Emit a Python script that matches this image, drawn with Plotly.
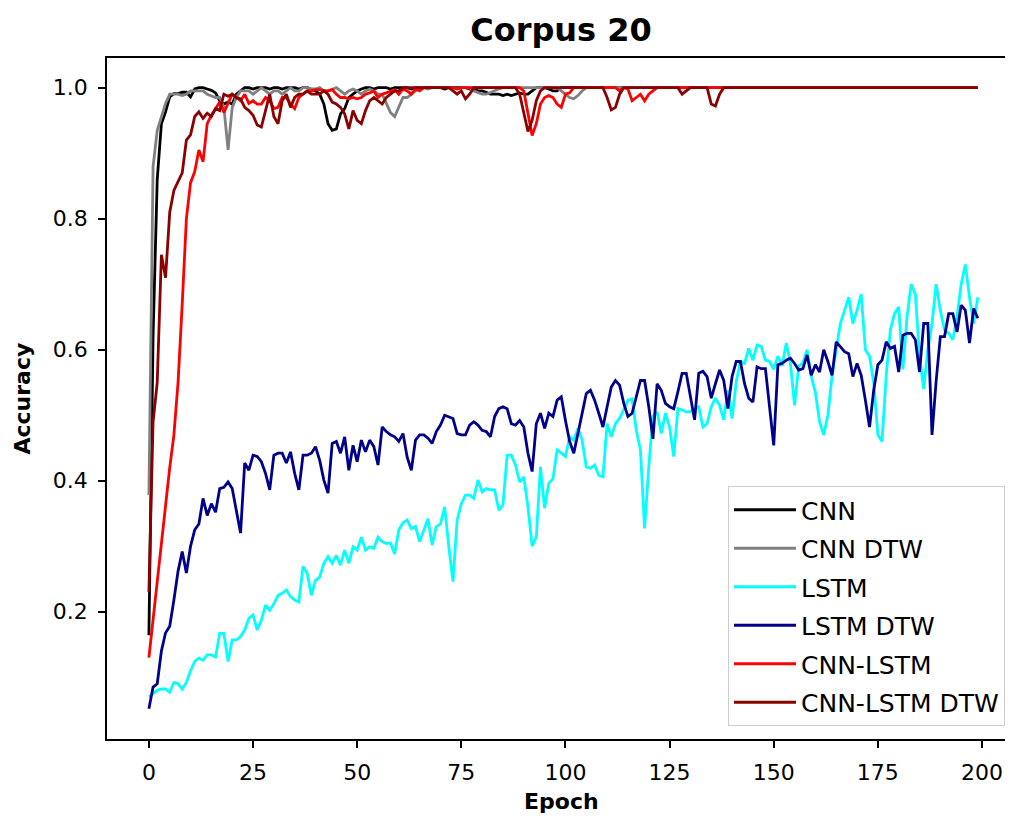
import plotly.graph_objects as go

epochs = list(range(200))

cnn = [
    0.164, 0.62, 0.86, 0.945, 0.963, 0.986, 0.991, 0.991, 0.993, 0.993,
    0.986, 0.998, 1.0, 1.0, 0.998, 0.996, 0.992, 0.98, 0.975, 0.978,
    0.975, 0.99, 0.995, 1.0, 1.0, 0.998, 1.0, 1.0, 1.0, 0.998,
    1.0, 1.0, 0.998, 1.0, 1.0, 1.0, 0.998, 1.0, 1.0, 0.998,
    0.995, 0.99, 0.975, 0.945, 0.935, 0.937, 0.96, 0.968, 0.985, 0.99,
    0.995, 0.998, 1.0, 1.0, 0.998, 1.0, 1.0, 1.0, 0.998, 1.0,
    1.0, 1.0, 1.0, 0.998, 1.0, 1.0, 1.0, 1.0, 1.0, 1.0,
    1.0, 0.998, 1.0, 1.0, 1.0, 1.0, 1.0, 0.998, 1.0, 0.995,
    0.995, 0.993, 0.99, 0.99, 0.99, 0.988, 0.99, 0.988, 0.99, 0.992,
    0.99, 0.99, 0.995, 1.0, 1.0, 1.0, 0.998, 0.995, 0.995, 1.0,
    1.0, 1.0, 1.0, 1.0, 1.0, 1.0, 1.0, 1.0, 1.0, 1.0,
    1.0, 1.0, 1.0, 1.0, 1.0, 1.0, 1.0, 1.0, 1.0, 1.0,
    1.0, 1.0, 1.0, 1.0, 1.0, 1.0, 1.0, 1.0, 1.0, 1.0,
    1.0, 1.0, 1.0, 1.0, 1.0, 1.0, 1.0, 1.0, 1.0, 1.0,
    1.0, 1.0, 1.0, 1.0, 1.0, 1.0, 1.0, 1.0, 1.0, 1.0,
    1.0, 1.0, 1.0, 1.0, 1.0, 1.0, 1.0, 1.0, 1.0, 1.0,
    1.0, 1.0, 1.0, 1.0, 1.0, 1.0, 1.0, 1.0, 1.0, 1.0,
    1.0, 1.0, 1.0, 1.0, 1.0, 1.0, 1.0, 1.0, 1.0, 1.0,
    1.0, 1.0, 1.0, 1.0, 1.0, 1.0, 1.0, 1.0, 1.0, 1.0,
    1.0, 1.0, 1.0, 1.0, 1.0, 1.0, 1.0, 1.0, 1.0, 1.0,
]

cnn_dtw = [
    0.378, 0.88, 0.935, 0.955, 0.976, 0.99, 0.99, 0.99, 0.988, 0.99,
    0.995, 0.995, 0.995, 0.995, 0.99, 0.988, 0.985, 0.985, 0.97, 0.905,
    0.97, 0.985, 0.995, 0.995, 0.995, 0.99, 0.995, 1.0, 0.995, 0.99,
    0.995, 0.995, 0.99, 0.995, 1.0, 0.995, 0.995, 1.0, 1.0, 0.998,
    0.998, 1.0, 0.995, 0.995, 0.998, 1.0, 0.995, 0.99, 0.995, 0.998,
    0.995, 0.99, 0.995, 0.998, 0.995, 0.99, 0.99, 0.975, 0.962, 0.956,
    0.97, 0.985, 0.985, 0.99, 0.995, 1.0, 1.0, 0.998, 1.0, 1.0,
    1.0, 1.0, 1.0, 1.0, 0.998, 1.0, 1.0, 1.0, 0.995, 0.993,
    0.99, 0.99, 0.993, 0.995, 0.998, 1.0, 1.0, 1.0, 1.0, 1.0,
    1.0, 1.0, 1.0, 1.0, 1.0, 1.0, 1.0, 1.0, 1.0, 0.995,
    0.99, 0.985, 0.983, 0.988, 0.995, 1.0, 1.0, 1.0, 1.0, 1.0,
    1.0, 1.0, 1.0, 1.0, 1.0, 1.0, 1.0, 1.0, 1.0, 1.0,
    1.0, 1.0, 1.0, 1.0, 1.0, 1.0, 1.0, 1.0, 1.0, 1.0,
    1.0, 1.0, 1.0, 1.0, 1.0, 1.0, 1.0, 1.0, 1.0, 1.0,
    1.0, 1.0, 1.0, 1.0, 1.0, 1.0, 1.0, 1.0, 1.0, 1.0,
    1.0, 1.0, 1.0, 1.0, 1.0, 1.0, 1.0, 1.0, 1.0, 1.0,
    1.0, 1.0, 1.0, 1.0, 1.0, 1.0, 1.0, 1.0, 1.0, 1.0,
    1.0, 1.0, 1.0, 1.0, 1.0, 1.0, 1.0, 1.0, 1.0, 1.0,
    1.0, 1.0, 1.0, 1.0, 1.0, 1.0, 1.0, 1.0, 1.0, 1.0,
    1.0, 1.0, 1.0, 1.0, 1.0, 1.0, 1.0, 1.0, 1.0, 1.0,
]

lstm = [
    0.070, 0.075, 0.080, 0.082, 0.082, 0.077, 0.092, 0.090, 0.082, 0.092,
    0.110, 0.124, 0.129, 0.126, 0.134, 0.134, 0.131, 0.167, 0.167, 0.124,
    0.157, 0.157, 0.162, 0.172, 0.190, 0.195, 0.172, 0.187, 0.210, 0.202,
    0.212, 0.225, 0.228, 0.233, 0.223, 0.218, 0.215, 0.269, 0.259, 0.225,
    0.248, 0.253, 0.274, 0.284, 0.274, 0.286, 0.271, 0.294, 0.274, 0.299,
    0.294, 0.314, 0.294, 0.299, 0.297, 0.314, 0.307, 0.304, 0.305, 0.288,
    0.325, 0.336, 0.340, 0.327, 0.330, 0.307, 0.325, 0.342, 0.302, 0.330,
    0.334, 0.360, 0.299, 0.246, 0.340, 0.365, 0.378, 0.378, 0.373, 0.401,
    0.383, 0.388, 0.386, 0.386, 0.355, 0.363, 0.439, 0.439, 0.424, 0.398,
    0.406, 0.360, 0.300, 0.314, 0.421, 0.358, 0.396, 0.403, 0.447, 0.442,
    0.437, 0.467, 0.462, 0.480, 0.462, 0.421, 0.419, 0.424, 0.408, 0.406,
    0.487, 0.467, 0.487, 0.495, 0.510, 0.523, 0.525, 0.477, 0.447, 0.327,
    0.421, 0.498, 0.505, 0.472, 0.503, 0.482, 0.437, 0.510, 0.508, 0.505,
    0.505, 0.510, 0.513, 0.482, 0.487, 0.513, 0.526, 0.515, 0.493, 0.538,
    0.495, 0.551, 0.582, 0.579, 0.602, 0.584, 0.607, 0.605, 0.584, 0.582,
    0.570, 0.590, 0.575, 0.610, 0.580, 0.515, 0.575, 0.580, 0.600, 0.560,
    0.535, 0.490, 0.470, 0.500, 0.560, 0.600, 0.640, 0.660, 0.680, 0.640,
    0.660, 0.685, 0.600, 0.590, 0.550, 0.470, 0.460, 0.560, 0.630, 0.655,
    0.665, 0.570, 0.650, 0.700, 0.685, 0.590, 0.540, 0.600, 0.640, 0.700,
    0.660, 0.630, 0.625, 0.615, 0.650, 0.700, 0.730, 0.680, 0.640, 0.680,
]

lstm_dtw = [
    0.052, 0.085, 0.090, 0.140, 0.168, 0.178, 0.218, 0.262, 0.292, 0.259,
    0.300, 0.325, 0.334, 0.373, 0.347, 0.365, 0.352, 0.388, 0.390, 0.398,
    0.388, 0.355, 0.320, 0.427, 0.416, 0.439, 0.437, 0.429, 0.411, 0.386,
    0.439, 0.442, 0.442, 0.427, 0.444, 0.411, 0.386, 0.439, 0.439, 0.442,
    0.452, 0.431, 0.401, 0.381, 0.457, 0.460, 0.442, 0.467, 0.416, 0.454,
    0.429, 0.462, 0.444, 0.462, 0.452, 0.424, 0.482, 0.475, 0.470, 0.467,
    0.460, 0.472, 0.436, 0.416, 0.462, 0.470, 0.470, 0.465, 0.457, 0.475,
    0.485, 0.500, 0.498, 0.495, 0.472, 0.470, 0.470, 0.485, 0.490, 0.485,
    0.477, 0.475, 0.467, 0.498, 0.510, 0.513, 0.510, 0.487, 0.485, 0.492,
    0.482, 0.442, 0.414, 0.487, 0.503, 0.480, 0.503, 0.498, 0.523, 0.528,
    0.492, 0.460, 0.442, 0.472, 0.503, 0.533, 0.538, 0.523, 0.503, 0.482,
    0.513, 0.543, 0.553, 0.546, 0.518, 0.498, 0.503, 0.530, 0.553, 0.553,
    0.513, 0.464, 0.548, 0.538, 0.518, 0.513, 0.510, 0.536, 0.564, 0.564,
    0.530, 0.493, 0.564, 0.567, 0.559, 0.526, 0.548, 0.569, 0.553, 0.510,
    0.559, 0.582, 0.582, 0.548, 0.526, 0.520, 0.574, 0.571, 0.571, 0.508,
    0.454, 0.577, 0.579, 0.584, 0.587, 0.579, 0.569, 0.571, 0.592, 0.561,
    0.577, 0.566, 0.600, 0.582, 0.561, 0.612, 0.605, 0.597, 0.594, 0.559,
    0.579, 0.561, 0.523, 0.482, 0.538, 0.577, 0.584, 0.612, 0.602, 0.605,
    0.566, 0.622, 0.625, 0.625, 0.615, 0.566, 0.640, 0.640, 0.470, 0.553,
    0.620, 0.620, 0.655, 0.655, 0.627, 0.668, 0.660, 0.610, 0.663, 0.648,
]

cnn_lstm = [
    0.13, 0.19, 0.25, 0.31, 0.36, 0.42, 0.47, 0.55, 0.67, 0.80,
    0.855, 0.872, 0.905, 0.887, 0.945, 0.958, 0.968, 0.978, 0.962, 0.975,
    0.99, 0.985, 0.98, 0.99, 0.976, 0.98, 0.975, 0.975, 0.985, 0.98,
    0.968, 0.97, 0.985, 0.985, 0.975, 0.968, 0.985, 0.99, 0.995, 0.995,
    0.997, 0.997, 0.995, 0.995, 0.997, 0.99, 0.985, 0.985, 0.983, 0.985,
    0.983, 0.985, 0.99, 0.992, 0.995, 0.985, 0.99, 0.992, 0.995, 0.997,
    0.99, 0.998, 0.995, 0.99, 0.998, 0.995, 1.0, 1.0, 1.0, 1.0,
    1.0, 1.0, 1.0, 1.0, 0.998, 1.0, 1.0, 1.0, 1.0, 1.0,
    1.0, 1.0, 1.0, 1.0, 1.0, 1.0, 1.0, 1.0, 1.0, 1.0,
    0.995, 0.96, 0.927, 0.945, 0.975, 0.985, 0.988, 0.985, 0.975, 0.97,
    0.99, 0.992, 1.0, 1.0, 1.0, 1.0, 1.0, 1.0, 1.0, 1.0,
    1.0, 1.0, 1.0, 0.995, 1.0, 0.998, 0.98, 0.985, 0.99, 0.98,
    0.99, 0.995, 1.0, 1.0, 1.0, 1.0, 1.0, 1.0, 1.0, 1.0,
    1.0, 1.0, 1.0, 1.0, 1.0, 1.0, 1.0, 1.0, 1.0, 1.0,
    1.0, 1.0, 1.0, 1.0, 1.0, 1.0, 1.0, 1.0, 1.0, 1.0,
    1.0, 1.0, 1.0, 1.0, 1.0, 1.0, 1.0, 1.0, 1.0, 1.0,
    1.0, 1.0, 1.0, 1.0, 1.0, 1.0, 1.0, 1.0, 1.0, 1.0,
    1.0, 1.0, 1.0, 1.0, 1.0, 1.0, 1.0, 1.0, 1.0, 1.0,
    1.0, 1.0, 1.0, 1.0, 1.0, 1.0, 1.0, 1.0, 1.0, 1.0,
    1.0, 1.0, 1.0, 1.0, 1.0, 1.0, 1.0, 1.0, 1.0, 1.0,
]

cnn_lstm_dtw = [
    0.23, 0.49, 0.55, 0.745, 0.71, 0.81, 0.843, 0.856, 0.87, 0.92,
    0.928, 0.956, 0.963, 0.953, 0.961, 0.956, 0.968, 0.965, 0.99, 0.987,
    0.99, 0.985, 0.983, 0.97, 0.965, 0.958, 0.943, 0.94, 0.965, 0.99,
    0.956, 0.945, 0.98, 0.99, 0.97, 0.985, 0.99, 0.99, 0.995, 0.99,
    0.99, 0.99, 0.995, 0.99, 0.978, 0.975, 0.97, 0.96, 0.937, 0.965,
    0.95, 0.945, 0.965, 0.98, 0.985, 0.98, 0.975, 0.985, 0.99, 0.995,
    0.995, 1.0, 1.0, 1.0, 1.0, 1.0, 1.0, 1.0, 1.0, 1.0,
    1.0, 1.0, 1.0, 0.995, 0.99, 0.995, 0.983, 0.99, 1.0, 1.0,
    1.0, 1.0, 1.0, 1.0, 1.0, 1.0, 1.0, 1.0, 1.0, 0.99,
    0.96, 0.933, 0.95, 0.98, 0.995, 1.0, 1.0, 1.0, 1.0, 1.0,
    1.0, 1.0, 1.0, 1.0, 1.0, 1.0, 1.0, 1.0, 1.0, 1.0,
    0.985, 0.966, 0.97, 0.99, 1.0, 1.0, 1.0, 1.0, 1.0, 1.0,
    1.0, 1.0, 1.0, 1.0, 1.0, 1.0, 1.0, 1.0, 0.99, 0.995,
    1.0, 1.0, 1.0, 1.0, 1.0, 0.975, 0.972, 0.99, 1.0, 1.0,
    1.0, 1.0, 1.0, 1.0, 1.0, 1.0, 1.0, 1.0, 1.0, 1.0,
    1.0, 1.0, 1.0, 1.0, 1.0, 1.0, 1.0, 1.0, 1.0, 1.0,
    1.0, 1.0, 1.0, 1.0, 1.0, 1.0, 1.0, 1.0, 1.0, 1.0,
    1.0, 1.0, 1.0, 1.0, 1.0, 1.0, 1.0, 1.0, 1.0, 1.0,
    1.0, 1.0, 1.0, 1.0, 1.0, 1.0, 1.0, 1.0, 1.0, 1.0,
    1.0, 1.0, 1.0, 1.0, 1.0, 1.0, 1.0, 1.0, 1.0, 1.0,
]

series_names = ["CNN", "CNN DTW", "LSTM", "LSTM DTW", "CNN-LSTM", "CNN-LSTM DTW"]
series_values = [cnn, cnn_dtw, lstm, lstm_dtw, cnn_lstm, cnn_lstm_dtw]
series_colors = ["#000000", "#808080", "#00ffff", "#00008b", "#ff0000", "#8b0000"]

x_tick_values = [0, 25, 50, 75, 100, 125, 150, 175, 200]
y_tick_values = [0.2, 0.4, 0.6, 0.8, 1.0]
y_tick_labels = ["0.2", "0.4", "0.6", "0.8", "1.0"]

for v in series_values:
    assert len(v) == len(epochs), len(v)

FONT = "DejaVu Sans"

# page has an 8px body margin; figure coordinates = page coordinates - 8
W, H = 1005, 809
L, T, B = 99, 50, 78
PW, PH = W - L, H - T - B

fig = go.Figure()
for name, vals, col in zip(series_names, series_values, series_colors):
    fig.add_trace(go.Scatter(
        x=epochs, y=vals, mode="lines", name=name, legendgroup=name,
        line=dict(color=col, width=2.8),
    ))

axis_common = dict(
    showgrid=False, zeroline=False, showline=True, linecolor="black",
    linewidth=1.5, ticks="outside", ticklen=7, tickwidth=1.5,
    tickcolor="black", tickfont=dict(family=FONT, size=22, color="black"),
)

fig.update_layout(
    width=W, height=H,
    margin=dict(l=L, r=0, t=T, b=B),
    paper_bgcolor="white", plot_bgcolor="white",
    font=dict(family=FONT, color="black"),
    title=dict(
        text="Corpus 20", x=(553 - L) / PW, xref="paper", xanchor="center",
        y=1 - 22 / H, yref="container", yanchor="middle",
        font=dict(family=FONT, size=32, color="black", weight="bold"),
    ),
    xaxis=dict(range=[-10.06, 207.44], tickvals=x_tick_values, mirror=True,
               ticklabelstandoff=6, **axis_common),
    yaxis=dict(range=[0.0057, 1.0453], tickvals=y_tick_values,
               ticktext=y_tick_labels, mirror=False, ticklabelstandoff=6,
               **axis_common),
    legend=dict(
        x=(997 - L) / PW, xanchor="right", y=(T + PH - 718) / PH, yanchor="bottom",
        bgcolor="rgba(255,255,255,0.8)", bordercolor="#cccccc", borderwidth=1,
        font=dict(family=FONT, size=25, color="black"),
        tracegroupgap=3, itemwidth=62,
    ),
    showlegend=True,
    annotations=[
        dict(text="Accuracy", xref="paper", yref="paper",
             x=(14 - L) / PW, y=0.5, xanchor="center", yanchor="middle",
             textangle=-90, showarrow=False,
             font=dict(family=FONT, size=22, color="black", weight="bold")),
        dict(text="Epoch", xref="paper", yref="paper",
             x=(553 - L) / PW, y=(T + PH - 793) / PH, xanchor="center",
             yanchor="middle", showarrow=False,
             font=dict(family=FONT, size=22, color="black", weight="bold")),
    ],
)

fig.write_html("out.html")
